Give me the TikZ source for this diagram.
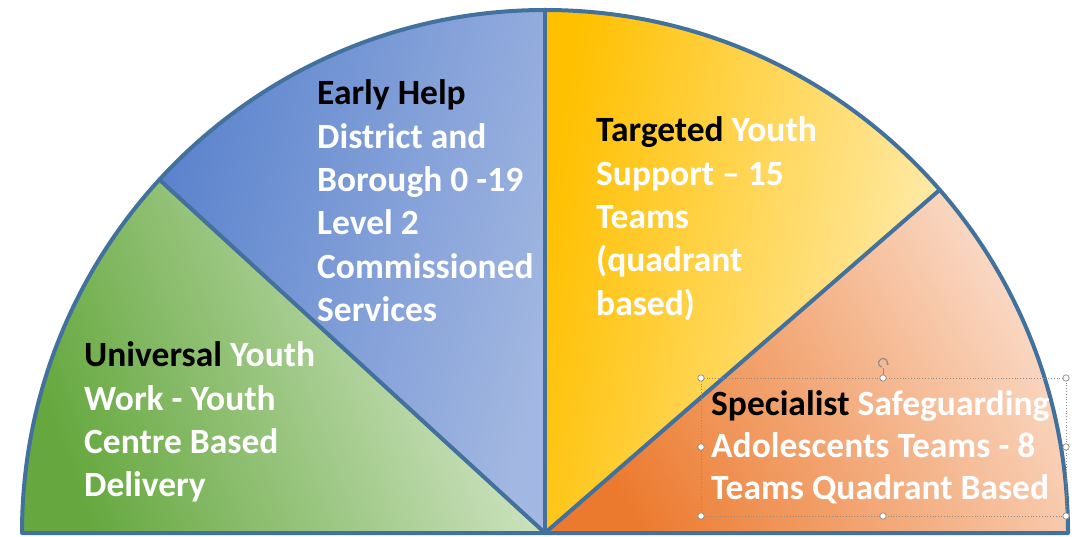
\documentclass[tikz,border=0pt]{standalone}
\usepackage{fontspec}
\setmainfont{Carlito}
\usetikzlibrary{arrows.meta}
\definecolor{bord}{HTML}{41719C}
\definecolor{gdark}{HTML}{66A83F}
\definecolor{glight}{HTML}{D8E9CE}
\definecolor{bdark}{HTML}{5B83CD}
\definecolor{blight}{HTML}{A2B7E1}
\definecolor{ydark}{HTML}{FFC000}
\definecolor{ylight}{HTML}{FFEDB2}
\definecolor{odark}{HTML}{EC7A2E}
\definecolor{olight}{HTML}{FADBC8}
\definecolor{handle}{HTML}{8C8C8C}
\begin{document}
\begin{tikzpicture}[x=1pt,y=1pt,
  lbl/.style={anchor=base west, inner sep=0pt, font=\fontsize{35.5}{43.3}\selectfont\bfseries},
  divider/.style={draw=bord, line width=4pt, line join=round, line cap=round},
  hnd/.style={draw=handle, fill=white, line width=0.7pt}]
\useasboundingbox (0,0) rectangle (1079,536);
\coordinate (C) at (545,3);
\path (C) ++(180:523pt) coordinate (L)
      (C) ++(137.5:523pt) coordinate (GB)
      (C) ++(90:523pt) coordinate (T)
      (C) ++(41:523pt) coordinate (YO)
      (C) ++(0:523pt) coordinate (R);
% sectors
\shade[top color=gdark, bottom color=glight, shading angle=110]
  (C) -- (L) arc[start angle=180, end angle=137.5, radius=523pt] -- cycle;
\shade[top color=bdark, bottom color=blight, shading angle=75]
  (C) -- (GB) arc[start angle=137.5, end angle=90, radius=523pt] -- cycle;
\shade[top color=ydark, bottom color=ylight, shading angle=80]
  (C) -- (T) arc[start angle=90, end angle=41, radius=523pt] -- cycle;
\shade[top color=odark, bottom color=olight, shading angle=120]
  (C) -- (YO) arc[start angle=41, end angle=0, radius=523pt] -- cycle;
% outlines
\draw[divider] (C) -- (GB);
\draw[divider] (C) -- (T);
\draw[divider] (C) -- (YO);
\draw[divider] (R) -- (L) arc[start angle=180, end angle=0, radius=523pt];
% texts
\node[lbl] (eh) at (317,431) {\parbox[t]{300pt}{\raggedright\leavevmode
  \color{black}Early Help\\
  \color{white}District and\\ Borough 0 -19\\ Level 2\\ Commissioned\\ Services}};
\node[lbl] (tg) at (596,394) {\parbox[t]{300pt}{\raggedright\leavevmode
  \color{black}Targeted \color{white}Youth\\ Support – 15\\ Teams\\ (quadrant\\ based)}};
\node[lbl] (un) at (84,169) {\parbox[t]{300pt}{\raggedright\leavevmode
  \color{black}Universal \color{white}Youth\\ Work - Youth\\ Centre Based\\ Delivery}};
% selection frame
\draw[handle, dotted, line width=0.8pt] (701,158) rectangle (1066,20);
\draw[handle, line width=0.7pt] (883,158) -- (883,168);
\node[lbl, font=\fontsize{35.5}{42}\selectfont\bfseries] (sp) at (711,121) {\parbox[t]{360pt}{\raggedright\leavevmode
  \color{black}Specialist \color{white}Safeguarding\\ Adolescents Teams - 8\\ Teams Quadrant Based}};
\foreach \hx/\hy in {701/158,883/158,1066/158,701/89,1066/89,701/20,883/20,1066/20}
  \draw[hnd] (\hx,\hy) circle[radius=3.2pt];
\draw[handle, line width=1.2pt, -{Stealth[length=2.5pt,width=3.5pt]}]
  (883,173) ++(250:4.5pt) arc[start angle=250, end angle=-30, radius=4.5pt];
\end{tikzpicture}
\end{document}
